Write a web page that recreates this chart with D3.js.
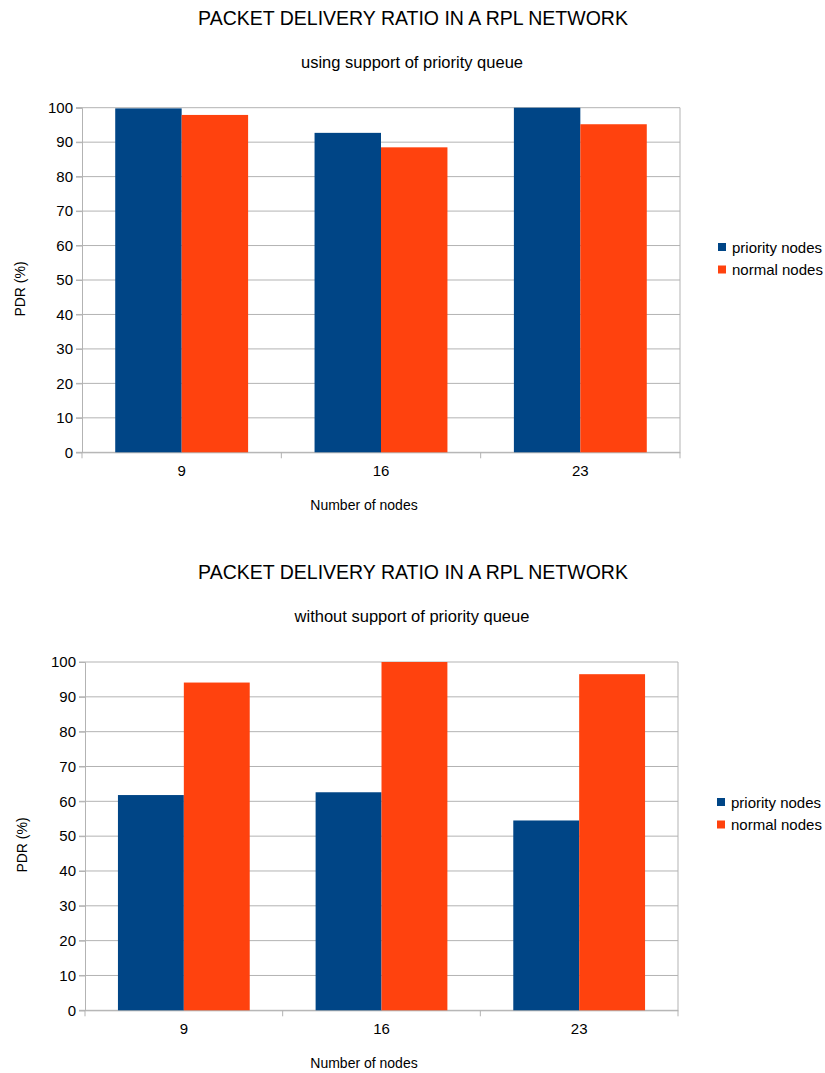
<!DOCTYPE html>
<html>
<head>
<meta charset="utf-8">
<script src="https://cdn.jsdelivr.net/npm/d3@7"></script>
<style>
  body { margin: 0; background: #fff; }
  text { font-family: "Liberation Sans", Arial, sans-serif; fill: #000; }
</style>
</head>
<body>
<svg id="chart" width="825" height="1073"></svg>
<script>
// data
const categories = ['9', '16', '23']
const seriesNames = ['priority nodes', 'normal nodes']
const colors = ['#004586', '#ff420e']
const yTicks = [0, 10, 20, 30, 40, 50, 60, 70, 80, 90, 100]

const withQueuePriority = [99.8, 92.7, 100]
const withQueueNormal = [97.9, 88.5, 95.2]
const withoutQueuePriority = [61.8, 62.6, 54.5]
const withoutQueueNormal = [94.1, 100, 96.5]

const svg = d3.select('#chart')
const FONT = '"Liberation Sans", Arial, sans-serif'

/* one chart panel */
const drawPanel = (opt) => {
    const {top, x0, x1, y0, y1, subtitle, priority, normal} = opt
    const g = svg.append('g')

    g.append('text').attr('x', 413).attr('y', top + 25)
        .attr('text-anchor', 'middle').style('font-size', '19.5px')
        .text('PACKET DELIVERY RATIO IN A RPL NETWORK')
    g.append('text').attr('x', 412).attr('y', top + 68)
        .attr('text-anchor', 'middle').style('font-size', '16.5px')
        .text(subtitle)

    const x = d3.scaleBand().domain(categories).range([x0, x1]).paddingInner(0).paddingOuter(0)
    const xs = d3.scaleBand().domain(seriesNames).range([0, x.bandwidth()]).paddingInner(0).paddingOuter(0.5)
    const y = d3.scaleLinear().domain([0, 100]).range([y0, y1])

    /* gridlines */
    g.selectAll('.grid').data(yTicks).join('line')
        .attr('x1', x0 - 6).attr('x2', x1)
        .attr('y1', d => y(d)).attr('y2', d => y(d))
        .attr('stroke', '#b3b3b3').attr('stroke-width', 1)
    g.append('line').attr('x1', x1).attr('x2', x1).attr('y1', y(100)).attr('y2', y(0))
        .attr('stroke', '#b3b3b3')

    /* y axis */
    const yAxis = g.append('g').attr('transform', `translate(${x0},0)`)
        .call(d3.axisLeft(y).tickValues(yTicks).tickSize(6).tickPadding(3))
    yAxis.select('.domain').attr('stroke', '#b3b3b3')
    yAxis.selectAll('.tick line').attr('stroke', '#b3b3b3')
    yAxis.selectAll('text').style('font-size', '15px').attr('fill', '#000')
        .style('font-family', FONT)

    /* x axis */
    const xAxis = g.append('g').attr('transform', `translate(0,${y0})`)
        .call(d3.axisBottom(x).tickSize(0).tickPadding(13))
    xAxis.select('.domain').attr('stroke', '#b3b3b3')
    xAxis.selectAll('text').style('font-size', '15px').attr('fill', '#000')
        .style('font-family', FONT)
    const bounds = categories.map(c => x(c)).concat([x1])
    g.selectAll('.xt').data(bounds).join('line')
        .attr('x1', d => d).attr('x2', d => d).attr('y1', y0).attr('y2', y0 + 6)
        .attr('stroke', '#b3b3b3')

    /* bars */
    const rows = categories.map((c, i) => ({cat: c, vals: [priority[i], normal[i]]}))
    g.selectAll('.grp').data(rows).join('g')
        .attr('transform', d => `translate(${x(d.cat)},0)`)
        .selectAll('rect').data(d => d.vals.map((v, j) => ({s: seriesNames[j], v, j})))
        .join('rect')
        .attr('x', d => xs(d.s)).attr('width', xs.bandwidth())
        .attr('y', d => y(d.v)).attr('height', d => y(0) - y(d.v))
        .attr('fill', d => colors[d.j])

    /* axis titles */
    g.append('text').attr('transform', `translate(${opt.yTitleX},${opt.yTitleY}) rotate(-90)`)
        .attr('text-anchor', 'middle').style('font-size', '14px').text('PDR (%)')
    g.append('text').attr('x', 364).attr('y', y0 + 58)
        .attr('text-anchor', 'middle').style('font-size', '14px').text('Number of nodes')

    /* legend */
    const lg = g.append('g').attr('transform', `translate(${opt.legendX},${opt.legendY})`)
    seriesNames.forEach((n, i) => {
        lg.append('rect').attr('x', 0).attr('y', i * 22.5 - 4).attr('width', 8).attr('height', 8)
            .attr('fill', colors[i])
        lg.append('text').attr('x', 14).attr('y', i * 22.5 + 5.5).style('font-size', '15px').text(n)
    })
}

drawPanel({top: 0, x0: 82, x1: 680, y0: 452.3, y1: 107.7,
    subtitle: 'using support of priority queue',
    priority: withQueuePriority, normal: withQueueNormal,
    legendX: 718, legendY: 247, yTitleX: 25, yTitleY: 289})

drawPanel({top: 554, x0: 85, x1: 678, y0: 1010.3, y1: 662,
    subtitle: 'without support of priority queue',
    priority: withoutQueuePriority, normal: withoutQueueNormal,
    legendX: 717, legendY: 802, yTitleX: 27, yTitleY: 845})
</script>
</body>
</html>
